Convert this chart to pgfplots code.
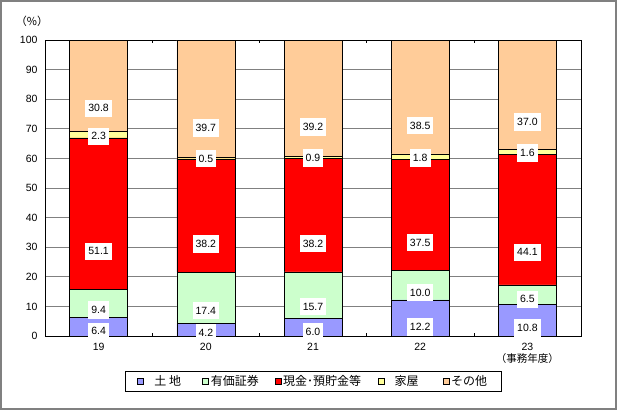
\documentclass[border=0pt]{standalone}
\usepackage{fontspec}
\setmainfont{Liberation Sans}
\newfontfamily\jp{Noto Sans CJK JP}
\usepackage{pgfplots}
\pgfplotsset{compat=1.18}
\definecolor{cLand}{HTML}{9999FF}
\definecolor{cSec}{HTML}{CCFFCC}
\definecolor{cCash}{HTML}{FF0000}
\definecolor{cHouse}{HTML}{FFFF99}
\definecolor{cOther}{HTML}{FFCC99}
\definecolor{frameg}{HTML}{808080}
\pgfplotsset{
  calculate offset/.code={%
    \pgfkeys{/pgf/fpu=true,/pgf/fpu/output format=fixed}%
    \pgfmathsetmacro\segoffset{\pgfplotspointmeta*0.74}%
    \pgfkeys{/pgf/fpu=false}%
  },
}
\begin{document}
\begin{tikzpicture}
\fill[white] (0pt,0pt) rectangle (617pt,-410pt);
\draw[frameg, line width=2pt] (1pt,-1pt) rectangle (616pt,-409pt);
\node[font=\jp\fontsize{11}{12}\selectfont] at (32pt,-21pt) {（\%）};
\begin{axis}[
  at={(45pt,-336pt)}, anchor=south west,
  scale only axis, width=536pt, height=296pt,
  ybar stacked, bar width=58pt,
  xmin=-0.5, xmax=4.5, ymin=0, ymax=100,
  xtick={0,1,2,3,4},
  xticklabels={19,20,21,22,{23\\{\jp\fontsize{10.5}{11}\selectfont （事務年度）}}},
  ytick={0,10,...,100},
  ymajorgrids, grid style={frameg, line width=0.8pt},
  major tick length=0pt,
  minor xtick={0.5,1.5,2.5,3.5}, minor tick length=3pt, tick align=inside,
  minor tick style={black, line width=0.6pt},
  axis line style={black, line width=0.8pt},
  tick label style={font=\fontsize{10.5}{12}\selectfont},
  xticklabel style={align=center, yshift=-4pt},
  yticklabel style={xshift=-4pt},
  /pgf/number format/assume math mode=true,
  point meta=rawy,
  nodes near coords={\pgfmathprintnumber[fixed,fixed zerofill,precision=1]{\pgfplotspointmeta}},
  every node near coord/.append style={font=\fontsize{10.5}{12}\selectfont, fill=white, inner xsep=3pt, inner ysep=5pt, anchor=center, /pgfplots/calculate offset, yshift=-\segoffset pt},
  legend columns=5,
  legend image code/.code={\draw[#1,draw=black,line width=0.4pt] (0pt,-3pt) rectangle (6pt,3pt);},
  legend style={at={(axis description cs:0.5,0)}, anchor=north, yshift=-35pt,
    draw=black, line width=0.6pt, inner xsep=12pt, inner ysep=4pt,
    font=\jp\fontsize{12}{13}\selectfont,
    nodes={inner sep=0pt},
    /tikz/every odd column/.append style={column sep=2pt},
    /tikz/every even column/.append style={column sep=0pt}},
  legend cell align=left,
]
\addplot[fill=cLand, draw=black, line width=0.5pt] coordinates {(0,6.4) (1,4.2) (2,6.0) (3,12.2) (4,10.8)};
\addlegendentry{\makebox[57pt][l]{\hspace{9pt}土 地}}
\addplot[fill=cSec, draw=black, line width=0.5pt] coordinates {(0,9.4) (1,17.4) (2,15.7) (3,10.0) (4,6.5)};
\addlegendentry{\makebox[64pt][l]{有価証券}}
\addplot[fill=cCash, draw=black, line width=0.5pt] coordinates {(0,51.1) (1,38.2) (2,38.2) (3,37.5) (4,44.1)};
\addlegendentry{\makebox[95pt][l]{現金･預貯金等}}
\addplot[fill=cHouse, draw=black, line width=0.5pt] coordinates {(0,2.3) (1,0.5) (2,0.9) (3,1.8) (4,1.6)};
\addlegendentry{\makebox[56pt][l]{\hspace{8pt}家屋}}
\addplot[fill=cOther, draw=black, line width=0.5pt] coordinates {(0,30.8) (1,39.7) (2,39.2) (3,38.5) (4,37.0)};
\addlegendentry{\makebox[38pt][l]{その他}}
\end{axis}
\end{tikzpicture}
\end{document}
